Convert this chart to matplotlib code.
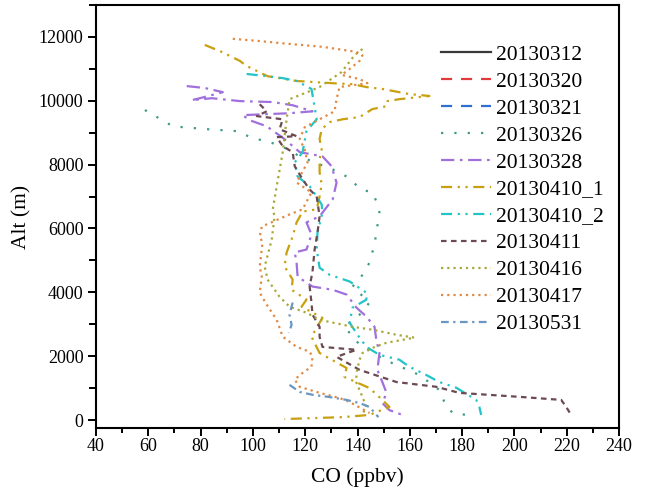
import numpy as np
import matplotlib
matplotlib.use("Agg")
import matplotlib.pyplot as plt
from matplotlib.ticker import MultipleLocator

plt.rcParams['font.family'] = ['Liberation Serif', 'DejaVu Serif']

labels = ["20130312", "20130320", "20130321", "20130326", "20130328",
          "20130410_1", "20130410_2", "20130411", "20130416", "20130417", "20130531"]

co_20130312 = []
alt_20130312 = []
co_20130320 = []
alt_20130320 = []
co_20130321 = []
alt_20130321 = []

co_20130326 = [58.7, 69.4, 82.4, 93.8, 99.9, 105.3, 111.0, 117.9, 123.6, 130.5, 135.8, 141.5, 145.7,
               147.2, 148.4, 147.2, 146.5, 144.6, 140.8, 138.1, 144.6, 140.8, 135.0, 140.8, 150.3,
               163.7, 171.3, 173.2, 176.3, 181.6]
alt_20130326 = [9710, 9200, 9110, 9050, 8830, 8730, 8580, 8260, 8070, 7850, 7630, 7220, 7130,
                6850, 6500, 5870, 5500, 4930, 4400, 4180, 3680, 3300, 2920, 2360, 1890,
                1410, 940, 570, 220, 160]

co_20130328 = [74.7, 81.6, 88.5, 79.7, 76.6, 84.3, 95.0, 107.6, 115.2, 122.8, 114.0, 96.1, 98.8,
               105.3, 112.1, 117.9, 126.6, 130.1, 131.2, 132.0, 130.5, 125.5, 120.5, 122.4, 120.5,
               116.0, 116.7, 117.1, 122.8, 130.5, 135.8, 139.6, 143.4, 146.5, 147.2, 148.4, 147.6,
               149.5, 151.1, 149.5, 152.2, 157.2]
alt_20130328 = [10460, 10400, 10270, 10080, 10020, 10080, 9990, 9960, 9860, 9670, 9610, 9550, 9390,
                9200, 8800, 8390, 8260, 7950, 7630, 7440, 6910, 6380, 6190, 5810, 5340,
                5250, 4930, 4490, 4180, 4080, 3930, 3520, 3240, 2920, 2510, 2100, 1570,
                1190, 850, 530, 310, 160]

co_20130410_1 = [81.6, 88.1, 95.0, 97.6, 105.6, 116.7, 130.5, 138.1, 143.4, 149.5, 159.8, 167.5,
                 156.0, 151.5, 151.1, 145.7, 140.8, 134.3, 129.3, 126.3, 125.5, 126.3, 125.5, 125.5,
                 126.3, 125.5, 124.4, 119.0, 116.7, 115.2, 112.9, 112.1, 115.2, 114.8, 120.5, 118.6,
                 126.6, 122.4, 125.5, 135.8, 135.0, 144.6, 149.5, 152.2, 144.6, 134.3, 122.8, 112.1]
alt_20130410_1 = [11750, 11530, 11250, 11090, 10770, 10620, 10550, 10520, 10430, 10370, 10210, 10150,
                  10050, 9990, 9830, 9740, 9490, 9420, 9330, 9110, 8800, 8480, 8170, 7760,
                  7380, 7000, 6600, 6530, 6190, 5750, 5250, 4810, 4400, 4080, 3770, 3550,
                  3200, 2610, 2100, 1630, 1350, 1000, 630, 410, 160, 90, 60, 30]

co_20130410_2 = [97.6, 105.3, 111.4, 116.7, 122.4, 124.4, 120.5, 119.0, 116.0, 117.1, 121.7, 124.4,
                 126.3, 126.6, 124.7, 124.4, 125.5, 129.3, 137.0, 143.4, 143.4, 138.1, 137.0, 140.0,
                 143.4, 148.4, 156.0, 159.8, 166.3, 171.3, 177.8, 185.4, 186.6, 187.3]
alt_20130410_2 = [10840, 10770, 10710, 10620, 10370, 9420, 9050, 8390, 8070, 7630, 7320, 7000,
                  6750, 6500, 5870, 5340, 4770, 4550, 4340, 3990, 3770, 3520, 3050, 2670,
                  2290, 2040, 1890, 1670, 1410, 1190, 1010, 630, 410, 160]

co_20130411 = [102.6, 105.3, 101.5, 111.4, 110.2, 116.7, 109.1, 111.4, 115.2, 116.0, 119.0, 121.7,
               124.4, 125.5, 124.7, 123.6, 122.8, 121.7, 122.4, 122.8, 125.5, 125.5, 126.6, 139.6,
               132.0, 140.8, 154.9, 170.2, 178.9, 203.0, 217.9, 219.8, 221.7]
alt_20130411 = [9890, 9670, 9520, 9420, 9110, 8890, 8860, 8580, 8390, 7950, 7540, 7220,
                7000, 6380, 5870, 5340, 4650, 4180, 3680, 3300, 2920, 2610, 2290, 2200,
                1980, 1570, 1190, 1040, 850, 720, 630, 410, 160]

co_20130416 = [141.9, 138.9, 133.9, 125.5, 119.0, 114.0, 112.9, 111.4, 109.1, 107.6, 108.3, 107.2,
               104.5, 105.6, 110.2, 114.0, 120.5, 125.5, 138.1, 145.7, 154.9, 161.8, 151.1, 145.7,
               141.9, 140.8, 139.6, 139.6, 140.8, 141.9, 143.4, 141.5]
alt_20130416 = [11620, 11430, 10900, 10430, 10210, 10050, 9420, 8390, 7320, 6600, 6380, 5650,
                4810, 4400, 3860, 3550, 3360, 3140, 2920, 2830, 2670, 2580, 2420, 2260,
                2100, 1890, 1480, 1160, 940, 720, 410, 130]

co_20130417 = [92.3, 102.6, 114.0, 126.6, 139.6, 141.9, 140.8, 136.9, 133.9, 140.8, 143.8, 133.1,
               132.0, 131.2, 125.5, 119.8, 117.9, 119.8, 120.9, 116.7, 122.4, 119.0, 114.0, 103.4,
               102.6, 103.7, 102.6, 103.4, 102.6, 105.3, 109.1, 111.4, 116.7, 121.7, 122.8, 122.4,
               117.9, 116.0, 117.9, 125.5, 133.1, 136.9, 144.6]
alt_20130417 = [11940, 11870, 11780, 11690, 11530, 11430, 11250, 10990, 10810, 10680, 10550, 10430,
                10050, 9670, 9420, 9170, 8800, 8480, 8070, 7440, 7130, 6600, 6440, 6060,
                5750, 5560, 4810, 4490, 3990, 3610, 3140, 2610, 2290, 2140, 1980, 1670,
                1410, 1260, 1040, 850, 690, 570, 220]

co_20130531 = [115.2, 114.0, 114.8, 113.7, np.nan, 114.0, 117.9, 122.8, 129.3, 135.8, 140.8, 144.6, 148.0]
alt_20130531 = [3680, 3300, 2980, 2730, np.nan, 1100, 880, 790, 720, 630, 530, 410, 90]

series = [
    (co_20130312, alt_20130312, '#3a3a3a', '-'),
    (co_20130320, alt_20130320, '#e03c3c', (0, (5, 4))),
    (co_20130321, alt_20130321, '#2f6fd0', (0, (5, 4))),
    (co_20130326, alt_20130326, '#3c9a88', (0, (1, 5))),
    (co_20130328, alt_20130328, '#a070dc', (0, (6, 2.5, 1.2, 2.5))),
    (co_20130410_1, alt_20130410_1, '#c8a010', (0, (5, 2.5, 1, 2.5, 1, 2.5))),
    (co_20130410_2, alt_20130410_2, '#22c4c8', (0, (5, 2.5, 1, 2.5, 1, 2.5))),
    (co_20130411, alt_20130411, '#6b4a52', (0, (2.5, 2))),
    (co_20130416, alt_20130416, '#a8a838', (0, (1, 1.8))),
    (co_20130417, alt_20130417, '#e08a44', (0, (1, 1.8))),
    (co_20130531, alt_20130531, '#6a96c4', (0, (3.5, 2, 1, 2))),
]

fig = plt.figure(figsize=(6.46, 4.95), dpi=100)
ax = fig.add_axes([96/646, 1 - 428/495, (619-96)/646, (428-5)/495])

for (x, y, c, ls), lab in zip(series, labels):
    ax.plot(x, y, color=c, linestyle=ls, linewidth=1.6, label=lab)

ax.set_xlim(40, 240)
ax.set_ylim(-250, 13000)
ax.xaxis.set_major_locator(MultipleLocator(20))
ax.xaxis.set_minor_locator(MultipleLocator(10))
ax.yaxis.set_major_locator(MultipleLocator(2000))
ax.yaxis.set_minor_locator(MultipleLocator(1000))
ax.tick_params(axis='both', which='major', direction='out', length=6, width=1.4, labelsize=13)
ax.tick_params(axis='x', which='major', pad=1)
ax.tick_params(axis='y', which='major', pad=3)
ax.tick_params(axis='x', which='minor', direction='out', length=3.5, width=1.4)
ax.tick_params(axis='y', which='minor', direction='out', length=5, width=1.4)
for s in ax.spines.values():
    s.set_linewidth(1.5)

ax.set_xlabel('CO (ppbv)', fontsize=15.5, labelpad=9)
ax.set_ylabel('Alt (m)', fontsize=15.5, labelpad=5)

leg = ax.legend(loc='upper right', bbox_to_anchor=(1.0, 0.942), frameon=False, fontsize=15.5,
                handlelength=2.3, handletextpad=0.25, labelspacing=0.32, borderaxespad=0.3)

fig.savefig('out.png', dpi=100)
